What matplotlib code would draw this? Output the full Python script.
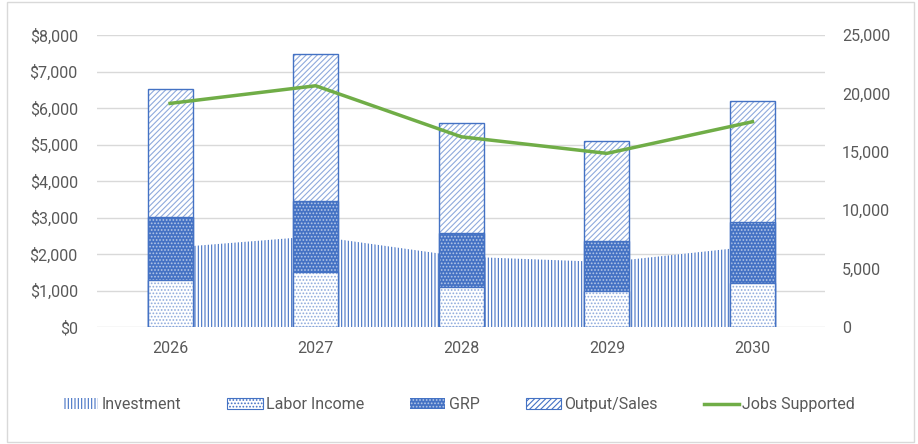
import numpy as np
import matplotlib
matplotlib.use('Agg')
import matplotlib.pyplot as plt
from matplotlib.patches import Patch, Rectangle
from matplotlib.lines import Line2D
from matplotlib.ticker import FuncFormatter, MultipleLocator

# Data
years = ['2026', '2027', '2028', '2029', '2030']
investment = [2170, 2490, 1930, 1780, 2210]
labor_income = [1290, 1510, 1100, 995, 1200]
grp = [3010, 3450, 2575, 2365, 2885]
output_sales = [6520, 7480, 5590, 5100, 6200]
jobs = [19150, 20660, 16290, 14870, 17580]

blue = '#4472C4'
light = '#8FAADC'
green = '#70AD47'
grey_txt = '#595959'
grid_c = '#D9D9D9'

plt.rcParams['font.family'] = ['Roboto', 'DejaVu Sans']
plt.rcParams['hatch.linewidth'] = 0.8

fig = plt.figure(figsize=(9.18, 4.44), dpi=100)
fig.patches.append(Rectangle((0.008, 0.005), 0.988, 0.99, transform=fig.transFigure,
                             fill=False, edgecolor=grid_c, linewidth=1))
ax = fig.add_axes([0.106, 0.2635, 0.793, 0.6575])
x = np.arange(len(years))
w = 0.31

# Investment as hatched area behind the bars
ax.fill_between(x, investment, 0, facecolor='white', edgecolor=blue, hatch='|||||',
                linewidth=0, zorder=1)

# overlapping bars: biggest behind
ax.bar(x, output_sales, w, facecolor='white', edgecolor=light, hatch='//////', linewidth=0, zorder=2)
ax.bar(x, output_sales, w, facecolor='none', edgecolor=blue, linewidth=1, zorder=2.1)
ax.bar(x, grp, w, facecolor=blue, edgecolor='#B4C7E7', hatch='.....', linewidth=0, zorder=3)
ax.bar(x, grp, w, facecolor='none', edgecolor=blue, linewidth=1, zorder=3.1)
ax.bar(x, labor_income, w, facecolor='white', edgecolor=light, hatch='.....', linewidth=0, zorder=4)
ax.bar(x, labor_income, w, facecolor='none', edgecolor=blue, linewidth=1, zorder=4.1)

ax.set_xlim(-0.5, 4.5)
ax.set_ylim(0, 8000)
ax.yaxis.set_major_locator(MultipleLocator(1000))
ax.yaxis.set_major_formatter(FuncFormatter(lambda v, p: '${:,.0f}'.format(v)))
ax.set_xticks(x)
ax.set_xticklabels(years)
ax.grid(axis='y', color=grid_c, linewidth=1, zorder=0)
ax.set_axisbelow(True)
for s in ax.spines.values():
    s.set_visible(False)
ax.tick_params(length=0, colors=grey_txt, labelsize=11.5)
ax.tick_params(axis='y', pad=14)
ax.tick_params(axis='x', pad=10)

ax2 = ax.twinx()
ax2.plot(x, jobs, color=green, linewidth=2.5, zorder=5)
ax2.set_ylim(0, 25000)
ax2.yaxis.set_major_locator(MultipleLocator(5000))
ax2.yaxis.set_major_formatter(FuncFormatter(lambda v, p: '{:,.0f}'.format(v)))
for s in ax2.spines.values():
    s.set_visible(False)
ax2.tick_params(length=0, colors=grey_txt, labelsize=11.5, pad=12)

handles = [
    Patch(facecolor='white', edgecolor=blue, hatch='|||||', linewidth=0),
    Patch(facecolor='white', edgecolor=blue, hatch='.....', linewidth=0.8),
    Patch(facecolor=blue, edgecolor='#B4C7E7', hatch='.....', linewidth=0),
    Patch(facecolor='white', edgecolor=blue, hatch='//////', linewidth=0.8),
    Line2D([], [], color=green, linewidth=2.5),
]
labels = ['Investment', 'Labor Income', 'GRP', 'Output/Sales', 'Jobs Supported']
leg = fig.legend(handles, labels, loc='center', bbox_to_anchor=(0.5, 0.088), ncol=5,
                 frameon=False, fontsize=11.5, columnspacing=2.9, handlelength=2.2,
                 handletextpad=0.2)
for t in leg.get_texts():
    t.set_color(grey_txt)

fig.savefig('out.png', dpi=100)
